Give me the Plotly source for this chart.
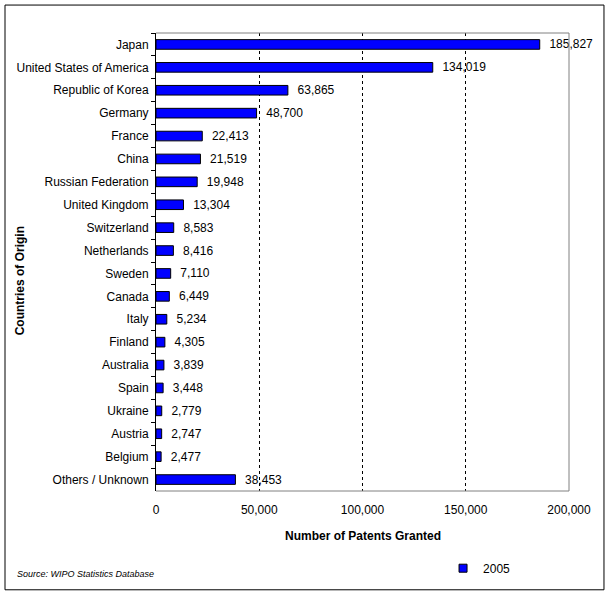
import plotly.graph_objects as go

# Patents granted by country of origin, 2005
countries = ["Japan", "United States of America", "Republic of Korea", "Germany",
             "France", "China", "Russian Federation", "United Kingdom", "Switzerland",
             "Netherlands", "Sweden", "Canada", "Italy", "Finland", "Australia",
             "Spain", "Ukraine", "Austria", "Belgium", "Others / Unknown"]
patents_2005 = [185827, 134019, 63865, 48700, 22413, 21519, 19948, 13304, 8583,
                8416, 7110, 6449, 5234, 4305, 3839, 3448, 2779, 2747, 2477, 38453]
x_ticks = [0, 50000, 100000, 150000, 200000]

FONT = "Liberation Sans, Arial, sans-serif"

fig = go.Figure()
fig.add_trace(go.Bar(
    x=patents_2005,
    y=countries,
    orientation="h",
    name="2005",
    showlegend=False,
    width=0.42,
    marker=dict(color="#0000FF", line=dict(color="black", width=1)),
    text=[f"{v:,}" for v in patents_2005],
    texttemplate="\u00a0\u00a0%{text}",
    textposition="outside",
    textfont=dict(family=FONT, size=12, color="black"),
    constraintext="none",
    cliponaxis=False,
))
# legend entry with a small square like the original
fig.add_trace(go.Scatter(
    x=[None], y=[None], mode="markers", name="2005",
    marker=dict(symbol="square", size=8, color="#0000FF",
                line=dict(color="black", width=1)),
))

# plot border: gray top/right/bottom, black left via axis line
border = [(0, 1, 1, 1), (1, 0, 1, 1), (0, 0, 1, 0)]
shapes = [dict(type="line", xref="paper", yref="paper", x0=a, y0=b, x1=c, y1=d,
               line=dict(color="#808080", width=1), layer="above")
          for a, b, c, d in border]
# outer frame
shapes.append(dict(type="rect", xref="paper", yref="paper",
                   x0=-0.3656, y0=-0.2157, x1=1.0847, y1=1.061,
                   line=dict(color="black", width=1)))

fig.update_layout(
    width=614,
    height=594,
    margin=dict(l=156, r=45, t=33, b=102),
    paper_bgcolor="white",
    plot_bgcolor="white",
    font=dict(family=FONT, size=12, color="black"),
    xaxis=dict(
        range=[0, 200000],
        tickvals=x_ticks,
        tickformat=",d",
        showgrid=True,
        gridcolor="black",
        griddash="3px,3px",
        gridwidth=1,
        zeroline=False,
        showline=False,
        ticks="",
        ticklabelstandoff=10,
        fixedrange=True,
    ),
    yaxis=dict(
        autorange="reversed",
        showline=True,
        linecolor="black",
        linewidth=1,
        ticks="outside",
        tickson="boundaries",
        ticklen=4,
        tickcolor="black",
        ticklabelstandoff=4,
        showgrid=False,
        zeroline=False,
    ),
    shapes=shapes,
    showlegend=True,
    legend=dict(
        x=0.695, y=-0.166, xanchor="left", yanchor="middle",
        orientation="h",
        font=dict(family=FONT, size=12),
        bgcolor="rgba(0,0,0,0)",
        itemwidth=30,
    ),
    annotations=[
        dict(text="<b>Number of Patents Granted</b>", xref="paper", yref="paper",
             x=0.5, y=-0.098, showarrow=False, font=dict(size=12),
             xanchor="center", yanchor="middle"),
        dict(text="<b>Countries of Origin</b>", xref="paper", yref="paper",
             x=-0.3293, y=0.46, textangle=-90, showarrow=False, font=dict(size=12),
             xanchor="center", yanchor="middle"),
        dict(text="<i>Source: WIPO Statistics Database</i>", xref="paper", yref="paper",
             x=-0.341, y=-0.181, showarrow=False, font=dict(size=9),
             xanchor="left", yanchor="middle"),
    ],
)

fig.write_html("out.html", config={"displayModeBar": False},
               post_script="document.body.style.margin='0';")
